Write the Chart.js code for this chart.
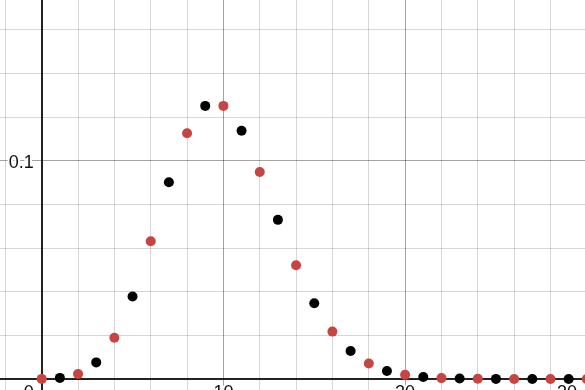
<!DOCTYPE html>
<html>
<head>
<meta charset="utf-8">
<script src="https://cdn.jsdelivr.net/npm/chart.js@4.4.1/dist/chart.umd.min.js"></script>
<style>
  html, body { margin: 0; padding: 0; background: #fff; }
  #chart { display: block; }
</style>
</head>
<body>
<canvas id="chart" width="585" height="390"></canvas>
<script>
// Sample data: values
const redX = [0, 2, 4, 6, 8, 10, 12, 14, 16, 18, 20, 22, 24, 26, 28, 30];
const redY = [0.00005, 0.0023, 0.0189, 0.0631, 0.1126, 0.1251, 0.0948, 0.0521,
  0.0217, 0.0071, 0.0019, 0.0004, 0.0001, 0, 0, 0];

const blackX = [1, 3, 5, 7, 9, 11, 13, 15, 17, 19, 21, 23, 25, 27, 29];
const blackY = [0.0005, 0.0076, 0.0378, 0.0901, 0.1251, 0.1137, 0.0729, 0.0347,
  0.0128, 0.0037, 0.0009, 0.0002, 0.00005, 0, 0];

const xLabels = [0, 10, 20, 30];
const yLabels = [0.1];

function toPoints(xs, ys) {
  return xs.map((x, i) => ({ x: x, y: ys[i] }));
}

const minorGrid = 'rgba(0, 0, 0, 0.16)';
const majorGrid = 'rgba(0, 0, 0, 0.36)';
const axisColor = '#222';

function gridColor(major) {
  return c => {
    const v = c.tick.value;
    if (Math.abs(v) < 1e-9) return axisColor;
    const r = v / major;
    return Math.abs(r - Math.round(r)) < 1e-6 ? majorGrid : minorGrid;
  };
}

function gridWidth(c) {
  return Math.abs(c.tick.value) < 1e-9 ? 2 : 1;
}

// axis numbers, drawn under the points with a white halo
const axisLabels = {
  id: 'axisLabels',
  beforeDatasetsDraw(chart) {
    const ctx = chart.ctx;
    const xs = chart.scales.x;
    const ys = chart.scales.y;
    const x0 = xs.getPixelForValue(0);
    const y0 = ys.getPixelForValue(0);
    ctx.save();
    ctx.font = '18px "Liberation Sans", Arial, sans-serif';
    ctx.fillStyle = '#111';
    ctx.strokeStyle = '#fff';
    ctx.lineWidth = 4;
    ctx.lineJoin = 'round';

    ctx.textBaseline = 'top';
    xLabels.forEach(v => {
      const t = String(v);
      const w = ctx.measureText(t).width;
      let px = xs.getPixelForValue(v);
      if (v === 0) {
        px = x0 - 8 - w / 2;
      } else {
        px = Math.min(px, chart.width - 8 - w / 2);
      }
      ctx.textAlign = 'center';
      ctx.strokeText(t, px, y0 + 5);
      ctx.fillText(t, px, y0 + 5);
    });

    ctx.textBaseline = 'middle';
    ctx.textAlign = 'right';
    yLabels.forEach(v => {
      const t = String(v);
      const py = ys.getPixelForValue(v);
      ctx.strokeText(t, x0 - 8, py + 2);
      ctx.fillText(t, x0 - 8, py + 2);
    });
    ctx.restore();
  }
};

new Chart(document.getElementById('chart'), {
  type: 'scatter',
  data: {
    datasets: [{
      label: 'red',
      data: toPoints(redX, redY),
      backgroundColor: '#c74440',
      pointRadius: 5,
      pointBorderWidth: 0
    }, {
      label: 'black',
      data: toPoints(blackX, blackY),
      backgroundColor: '#000',
      pointRadius: 5,
      pointBorderWidth: 0
    }]
  },
  options: {
    responsive: false,
    animation: false,
    layout: { padding: 0, autoPadding: false },
    plugins: {
      legend: { display: false },
      tooltip: { enabled: false }
    },
    scales: {
      x: {
        type: 'linear',
        min: -2.295,
        max: 29.9,
        border: { display: false },
        ticks: { display: false, stepSize: 2, includeBounds: false },
        grid: { drawTicks: false, color: gridColor(10), lineWidth: gridWidth }
      },
      y: {
        type: 'linear',
        min: -0.00504,
        max: 0.1736,
        border: { display: false },
        ticks: { display: false, stepSize: 0.02, includeBounds: false },
        grid: { drawTicks: false, color: gridColor(0.1), lineWidth: gridWidth }
      }
    }
  },
  plugins: [axisLabels]
});
</script>
</body>
</html>
